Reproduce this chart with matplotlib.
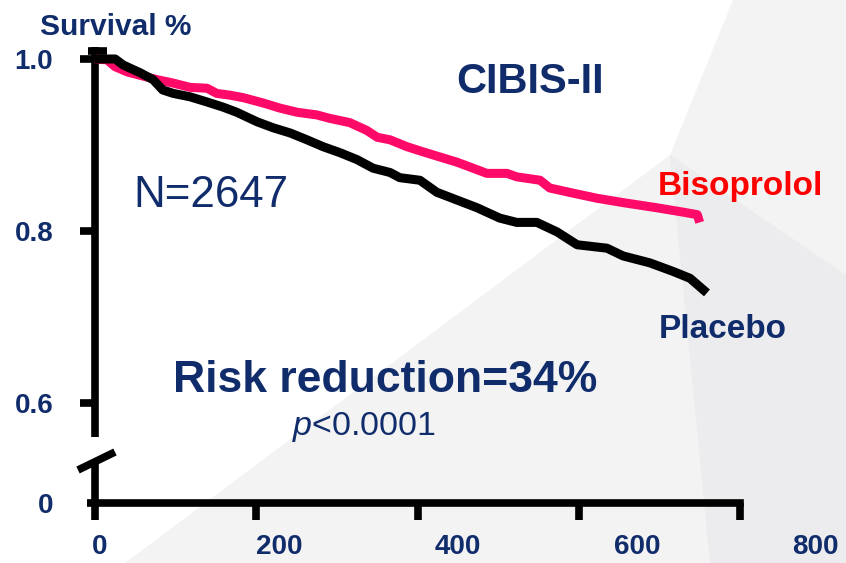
import matplotlib
matplotlib.use("Agg")
import matplotlib.pyplot as plt
from matplotlib.patches import Polygon
from matplotlib.lines import Line2D
from matplotlib import font_manager

# ---- survival data (days, cumulative survival) ----
biso_days = [0, 15, 25, 40, 56, 77, 97, 118, 139, 151, 167, 184, 208, 229, 251,
             275, 291, 316, 337, 350, 366, 387, 407, 428, 449, 469, 486, 511,
             523, 552, 564, 593, 623, 655, 697, 729, 747, 750]
biso_surv = [1.0, 0.999, 0.991, 0.985, 0.981, 0.976, 0.972, 0.967, 0.966, 0.960,
             0.958, 0.955, 0.949, 0.943, 0.938, 0.935, 0.931, 0.926, 0.917, 0.909,
             0.906, 0.898, 0.892, 0.886, 0.880, 0.873, 0.867, 0.867, 0.863, 0.859,
             0.850, 0.844, 0.838, 0.833, 0.827, 0.822, 0.819, 0.810]

plac_days = [0, 25, 35, 56, 72, 84, 97, 118, 139, 159, 176, 201, 221, 242, 263,
             283, 304, 325, 345, 366, 378, 403, 424, 449, 474, 502, 523, 548,
             573, 598, 635, 655, 688, 717, 738, 759]
plac_surv = [1.0, 1.0, 0.993, 0.984, 0.976, 0.964, 0.960, 0.956, 0.950, 0.944,
             0.938, 0.927, 0.920, 0.914, 0.906, 0.898, 0.891, 0.883, 0.873, 0.868,
             0.862, 0.859, 0.845, 0.836, 0.827, 0.815, 0.810, 0.810, 0.799, 0.784,
             0.780, 0.771, 0.763, 0.753, 0.745, 0.728]

x_ticks = [0, 200, 400, 600, 800]
x_tick_labels = ["0", "200", "400", "600", "800"]
y_ticks_top = [0.6, 0.8, 1.0]
y_tick_labels_top = ["0.6", "0.8", "1.0"]

# ---- styling ----
NAVY = "#102c6b"
PINK = "#ff0a68"
RED = "#ff0000"
FONT = "Liberation Sans"
available = {f.name for f in font_manager.fontManager.ttflist}
NARROW = "Liberation Sans Narrow" if "Liberation Sans Narrow" in available else FONT
plt.rcParams["font.family"] = [FONT, "DejaVu Sans"]
plt.rcParams["mathtext.fontset"] = "custom"
plt.rcParams["mathtext.it"] = "Liberation Sans:italic"
plt.rcParams["mathtext.rm"] = "Liberation Sans"

W, H = 846, 563
fig = plt.figure(figsize=(W / 100, H / 100), dpi=100)
fig.patch.set_facecolor("white")


def fx(px):
    return px / W


def fy(py):
    return 1 - py / H


# soft gray backdrop shapes
for pts, col in [
    ([(125, 563), (670, 155), (733, 0), (846, 0), (846, 563)], "#f3f3f4"),
    ([(670, 155), (846, 275), (846, 563), (710, 563)], "#ececee"),
]:
    fig.add_artist(Polygon([(fx(x), fy(y)) for x, y in pts], closed=True,
                           transform=fig.transFigure, facecolor=col,
                           edgecolor="none", zorder=0))

LW = 5.5
left, right = fx(95), fx(740)

# upper panel (survival 0.56 - 1.0)
ax = fig.add_axes([left, fy(437), right - left, fy(47) - fy(437)])
ax.set_facecolor("none")
ax.set_xlim(0, 800)
ax.set_ylim(1 - (437 - 59) / 860, 1 + 12 / 860)
for s in ["top", "right", "bottom"]:
    ax.spines[s].set_visible(False)
ax.spines["left"].set_linewidth(LW)
ax.spines["left"].set_capstyle("butt")
ax.set_xticks([])
ax.set_yticks(y_ticks_top)
ax.set_yticklabels(y_tick_labels_top)
ax.tick_params(axis="y", direction="out", length=11, width=LW, pad=19,
               labelsize=20, labelcolor=NAVY)
for lbl in ax.get_yticklabels():
    lbl.set_fontweight("bold")

ax.plot(biso_days, biso_surv, color=PINK, lw=6.5, solid_joinstyle="round",
        solid_capstyle="butt", clip_on=False, zorder=3)
ax.plot(plac_days, plac_surv, color="black", lw=6.5, solid_joinstyle="round",
        solid_capstyle="butt", clip_on=False, zorder=4)

# cap at the top of the axis
ax.add_line(Line2D([-9, 15], [1 + 8 / 860] * 2, color="black", lw=LW,
                   clip_on=False, solid_capstyle="butt"))

# lower panel holding the zero line and the x axis
axb = fig.add_axes([left, fy(503), right - left, fy(465) - fy(503)])
axb.set_facecolor("none")
axb.set_xlim(0, 800)
axb.set_ylim(0, 1)
for s in ["top", "right"]:
    axb.spines[s].set_visible(False)
for s in ["left", "bottom"]:
    axb.spines[s].set_linewidth(LW)
    axb.spines[s].set_capstyle("projecting")
axb.set_yticks([0])
axb.set_yticklabels(["0"])
axb.tick_params(axis="y", direction="out", length=6, width=LW, pad=24,
                labelsize=20, labelcolor=NAVY)
for lbl in axb.get_yticklabels():
    lbl.set_fontweight("bold")
axb.set_xticks(x_ticks)
axb.set_xticklabels([])
axb.tick_params(axis="x", direction="out", length=12, width=LW)
# x tick labels are spread slightly wider than the ticks
for v, t in zip(x_ticks, x_tick_labels):
    axb.annotate(t, xy=(6 + 1.11 * v, 0), xycoords=("data", "axes fraction"),
                 xytext=(0, -32), textcoords="offset points", ha="center",
                 va="center", fontsize=20, fontweight="bold", color=NAVY,
                 annotation_clip=False)

# axis break mark
fig.add_artist(Line2D([fx(78), fx(115)], [fy(470), fy(452)], color="black",
                      lw=LW, transform=fig.transFigure, solid_capstyle="butt"))

# annotations
fig.text(fx(40), fy(35), "Survival %", fontsize=21.5, fontweight="bold",
         color=NAVY, ha="left", va="baseline")
fig.text(fx(530), fy(93), "CIBIS-II", fontsize=30, fontweight="bold",
         color=NAVY, ha="center", va="baseline")
n_txt = fig.text(fx(133), fy(207), "N=2647", fontsize=30,
                 family=[NARROW, FONT], color=NAVY, ha="left", va="baseline")
# size the sample-count label to its intended width of 155 px
renderer = fig.canvas.get_renderer()
w = n_txt.get_window_extent(renderer).width
n_txt.set_fontsize(30 * 155 / w)
fig.text(fx(658), fy(195), "Bisoprolol", fontsize=24, fontweight="bold",
         color=RED, ha="left", va="baseline")
fig.text(fx(659), fy(338), "Placebo", fontsize=24, fontweight="bold",
         color=NAVY, ha="left", va="baseline")
fig.text(fx(173), fy(392), "Risk reduction=34%", fontsize=32,
         fontweight="bold", color=NAVY, ha="left", va="baseline")
fig.text(fx(292), fy(435), r"$p$<0.0001", fontsize=24.5, color=NAVY,
         ha="left", va="baseline")

fig.savefig("out.png", dpi=100)
